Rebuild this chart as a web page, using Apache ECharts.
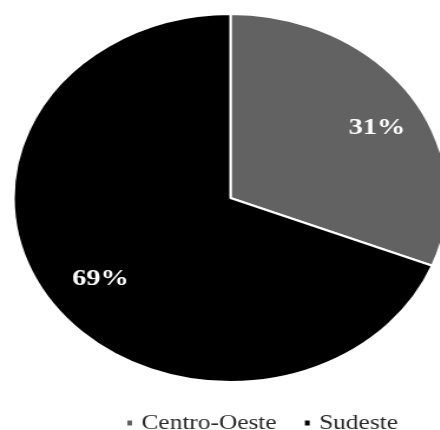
<!DOCTYPE html>
<html>
<head>
<meta charset="utf-8">
<script src="https://cdn.jsdelivr.net/npm/echarts@6/dist/echarts.min.js"></script>
<style>
  html, body { margin: 0; padding: 0; background: #fff; overflow: hidden; width: 440px; height: 430px; }
  #chart { width: 373px; height: 430px; transform: scaleX(1.179); transform-origin: 0 0; }
</style>
</head>
<body>
<div id="chart"></div>
<script>
const categories = ['Centro-Oeste', 'Sudeste'];
const values = [31, 69];
const colors = ['#626262', '#000000'];

const chart = echarts.init(document.getElementById('chart'), null, { renderer: 'canvas' });
const data = categories.map((c, i) => ({ name: c, value: values[i], itemStyle: { color: colors[i] } }));

chart.setOption({
  animation: false,
  legend: {
    data: categories,
    left: 101,
    top: 407,
    itemWidth: 6,
    itemHeight: 7,
    itemGap: 22,
    icon: 'rect',
    textStyle: { fontFamily: 'Liberation Serif', fontSize: 21.5, color: '#2a2a2a', padding: [5, 0, 0, 2] }
  },
  series: [
    {
      type: 'pie',
      center: [195.5, 198],
      radius: [0, 184],
      startAngle: 90,
      clockwise: true,
      silent: true,
      label: { show: false },
      labelLine: { show: false },
      itemStyle: { borderColor: '#ffffff', borderWidth: 2 },
      data: data
    },
    {
      type: 'pie',
      center: [195.5, 198],
      radius: [96, 184],
      startAngle: 90,
      clockwise: true,
      silent: true,
      legendHoverLink: false,
      itemStyle: { color: 'transparent', borderWidth: 0 },
      label: {
        show: true,
        position: 'inside',
        formatter: '{c}%',
        fontFamily: 'Liberation Serif',
        fontWeight: 'bold',
        fontSize: 24,
        color: '#ffffff'
      },
      labelLine: { show: false },
      labelLayout: function (p) { return p.dataIndex === 0 ? { dx: 6, dy: 10 } : { dx: 8, dy: 0 }; },
      data: categories.map((c, i) => ({ name: c + ' ', value: values[i] }))
    }
  ]
});
</script>
</body>
</html>
